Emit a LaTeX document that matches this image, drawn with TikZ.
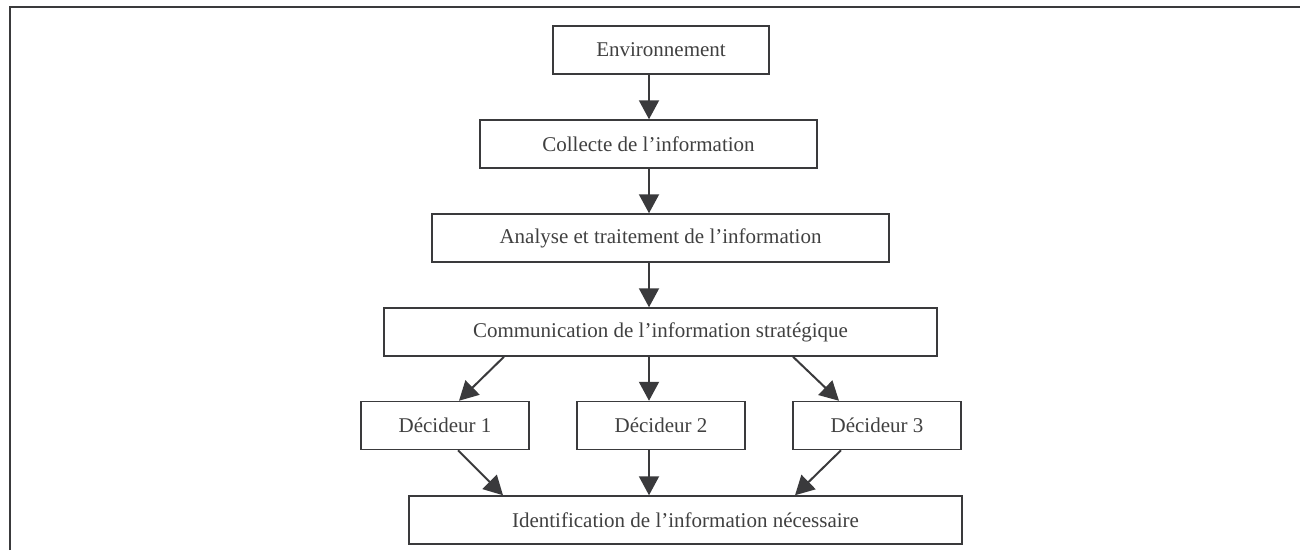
\documentclass[tikz,border=0pt]{standalone}
\usepackage{fontspec}
\setmainfont{Liberation Serif}
\usetikzlibrary{arrows.meta}
\definecolor{ink}{HTML}{3A3A3C}
\definecolor{txt}{HTML}{404040}

\begin{document}
\begin{tikzpicture}[
  x=1pt, y=-1pt,
  every node/.style={draw=ink, line width=1.5pt, rectangle, minimum height=48pt,
    inner sep=0pt, text=txt, font=\fontsize{21}{25}\selectfont},
  flow/.style={draw=ink, line width=2pt, -{Triangle[length=19pt,width=20pt]}, fill=ink}
]
\useasboundingbox (0,0) rectangle (1300,550);
% Frame
\draw[ink, line width=2pt] (10,550) -- (10,7) -- (1300,7);
% Main chain
\node[minimum width=216pt] (env) at (661,50) {Environnement};
\node[minimum width=337pt] (col) at (648.5,144) {Collecte de l’information};
\node[minimum width=457pt] (ana) at (660.5,238) {Analyse et traitement de l’information};
\node[minimum width=553pt] (com) at (660.5,332) {Communication de l’information stratégique};
% Decideurs
\node[minimum width=168pt] (dec1) at (445,425.5) {Décideur 1};
\node[minimum width=168pt] (dec2) at (661,425.5) {Décideur 2};
\node[minimum width=168pt] (dec3) at (877,425.5) {Décideur 3};
\node[minimum width=553pt] (ide) at (685.5,520) {Identification de l’information nécessaire};
\coordinate (axis) at (649,0);
% Arrows
\draw[flow] (env.south -| axis) -- (col.north -| axis);
\draw[flow] (col.south -| axis) -- (ana.north -| axis);
\draw[flow] (ana.south -| axis) -- (com.north -| axis);
\draw[flow] (com.south -| 504,0) -- (dec1.north -| 459,0);
\draw[flow] (com.south -| axis) -- (dec2.north -| axis);
\draw[flow] (com.south -| 793,0) -- (dec3.north -| 839,0);
\draw[flow] (dec1.south -| 458,0) -- (ide.north -| 503,0);
\draw[flow] (dec2.south -| axis) -- (ide.north -| axis);
\draw[flow] (dec3.south -| 841,0) -- (ide.north -| 795,0);
\end{tikzpicture}
\end{document}
